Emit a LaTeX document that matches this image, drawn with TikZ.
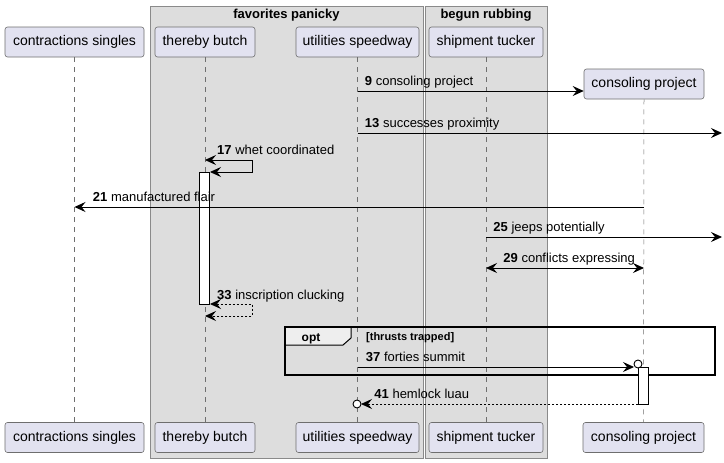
\documentclass[tikz,border=0pt]{standalone}
\usepackage{fontspec}
\setmainfont{Liberation Sans}
\usepackage{xcolor}
\usetikzlibrary{arrows.meta,calc}
\tikzset{>={Stealth[length=11pt,width=10pt,inset=4pt]}}
\definecolor{partfill}{HTML}{E2E2F0}
\definecolor{partline}{HTML}{6E6E6E}
\definecolor{boxfill}{HTML}{DDDDDD}
\definecolor{boxline}{HTML}{8A8A8A}
\definecolor{tabfill}{HTML}{EEEEEE}
\tikzstyle{part}=[draw=partline,fill=partfill,rounded corners=2.5,line width=0.6,
  minimum height=30,inner sep=0,font=\fontsize{14}{16}\selectfont]
\tikzstyle{life}=[draw=partline,dash pattern=on 5 off 5,line width=0.5]
\tikzstyle{grp}=[draw=boxline,fill=boxfill,line width=0.9]
\tikzstyle{msg}=[->,line width=0.9,black]
\tikzstyle{reply}=[msg,dash pattern=on 2 off 2]
\tikzstyle{lbl}=[font=\fontsize{13}{15}\selectfont,inner sep=0,anchor=base west]
\tikzstyle{actbar}=[draw=black,fill=white,line width=0.9]
\newcommand{\msgtxt}[2]{\textbf{#1} #2}

\begin{document}
\begin{tikzpicture}[x=1pt,y=-1pt]
  \useasboundingbox (0,0) rectangle (724,463);
  % groups
  \draw[grp] (150,6) rectangle (423,458);
  \draw[grp] (425,6) rectangle (547,458);
  \node[lbl,anchor=base,font=\fontsize{13}{15}\selectfont\bfseries] (gfav) at (286.5,19) {favorites panicky};
  \node[lbl,anchor=base,font=\fontsize{13}{15}\selectfont\bfseries] (gbeg) at (486,19) {begun rubbing};
  % participants
  \foreach \n/\x/\w/\t in {cs/74.5/139/contractions singles,tb/205/100/thereby butch,
      us/357.5/123/utilities speedway,st/486/114/shipment tucker}{
    \node[part,minimum width=\w] (\n) at (\x,42) {\t};
    \node[part,minimum width=\w] (\n b) at (\x,437.5) {\t};
  }
  \node[part,minimum width=120] (cp) at (644,84) {consoling project};
  \node[part,minimum width=121] (cpb) at (643.5,437.5) {consoling project};
  % lifelines
  \foreach \n in {cs,tb,us,st}{
    \draw[life] (\n.south) -- (\n b.north);
  }
  \draw[life] (cp.south) -- (cpb.north);
  \coordinate (rim) at (722,0);
  % opt frame
  \draw[fill=tabfill,line width=1] (285,327) -- (351,327) -- (351,338) -- (343,345) -- (285,345) -- cycle;
  \draw[line width=1.6] (285,327) rectangle (715,375);
  \node[lbl,font=\fontsize{12}{14}\selectfont\bfseries,anchor=base] (optx) at (311,341) {opt};
  \node[lbl,font=\fontsize{11}{13}\selectfont\bfseries] (guard) at (366,340) {[thrusts trapped]};
  % activations
  \draw[actbar] (199,172) rectangle (209,304);
  \draw[actbar] (638,367) rectangle (648,404);
  % messages
  \draw[msg] (us |- 0,91) -- (cp.west |- 0,91)
    node[lbl,pos=0,xshift=7,yshift=5.5] (m9) {\msgtxt{9}{consoling project}};
  \draw[msg] (us |- 0,133) -- (rim |- 0,133)
    node[lbl,pos=0,xshift=7,yshift=5.5] (m13) {\msgtxt{13}{successes proximity}};
  \draw[msg,<->] (tb |- 0,160) -- (252,160) -- (252,172) -- (210,172);
  \node[lbl] (m17) at (217,154) {\msgtxt{17}{whet coordinated}};
  \draw[msg] (cp |- 0,207) -- (cs |- 0,207)
    node[lbl,pos=1,xshift=18,yshift=5.5] (m21) {\msgtxt{21}{manufactured flair}};
  \draw[msg] (st |- 0,237) -- (rim |- 0,237)
    node[lbl,pos=0,xshift=7,yshift=5.5] (m25) {\msgtxt{25}{jeeps potentially}};
  \draw[msg,<->] (st |- 0,268) -- (cp |- 0,268)
    node[lbl,pos=0,xshift=17,yshift=5.5] (m29) {\msgtxt{29}{conflicts expressing}};
  \draw[reply,<->] (210,304) -- (252,304) -- (252,316) -- (tb |- 0,316);
  \node[lbl] (m33) at (217,299) {\msgtxt{33}{inscription clucking}};
  \draw[msg] (us |- 0,367) -- (634,367)
    node[lbl,pos=0,xshift=8,yshift=5.5] (m37) {\msgtxt{37}{forties summit}};
  \draw[line width=0.9,fill=white] (638,364) circle (4);
  \draw[reply] (638,404) -- (361,404)
    node[lbl,pos=1,xshift=13,yshift=5.5] (m41) {\msgtxt{41}{hemlock luau}};
  \draw[line width=0.9,fill=white] (357,404) circle (4);
\end{tikzpicture}
\end{document}
